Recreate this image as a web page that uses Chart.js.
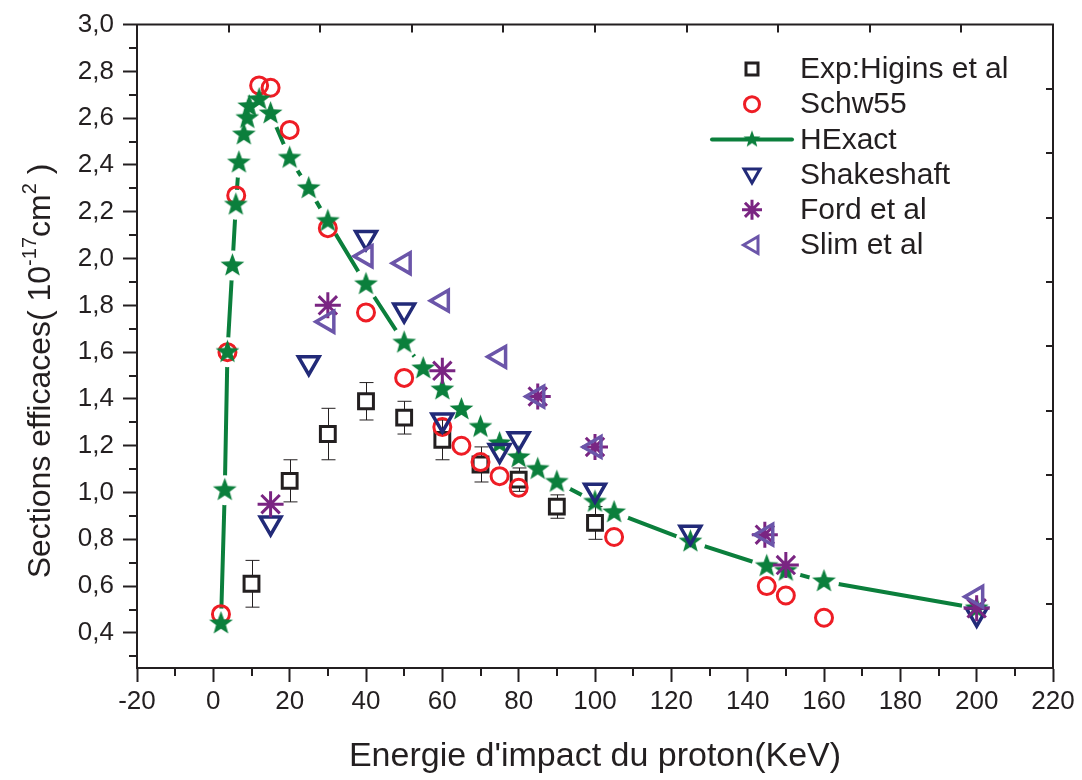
<!DOCTYPE html>
<html>
<head>
<meta charset="utf-8">
<title>Sections efficaces</title>
<script src="https://cdn.jsdelivr.net/npm/chart.js@4.4.0/dist/chart.umd.min.js"></script>
<style>
  html, body { margin: 0; padding: 0; background: #fff; }
  #chart { display: block; }
</style>
</head>
<body>
<canvas id="chart" width="1082" height="780"></canvas>
<script>
// ---- data ----
const xTicks = [-20, 0, 20, 40, 60, 80, 100, 120, 140, 160, 180, 200, 220];
const yTicks = [0.4, 0.6, 0.8, 1.0, 1.2, 1.4, 1.6, 1.8, 2.0, 2.2, 2.4, 2.6, 2.8, 3.0];

// Exp: Higins et al (with error bars)
const expX = [10, 20, 30, 40, 50, 60, 70, 80, 90, 100];
const expY = [0.61, 1.05, 1.25, 1.39, 1.32, 1.225, 1.12, 1.055, 0.94, 0.87];
const expErr = [0.10, 0.09, 0.11, 0.08, 0.07, 0.085, 0.075, 0.05, 0.05, 0.07];

// Schw55
const schwX = [2, 3.7, 6, 12, 15, 20, 30, 40, 50, 60, 65, 70, 75, 80, 105, 145, 150, 160];
const schwY = [0.48, 1.60, 2.27, 2.74, 2.73, 2.55, 2.13, 1.77, 1.49, 1.28, 1.20, 1.13, 1.07, 1.02, 0.81, 0.60, 0.56, 0.465];

// HExact
const hexX = [2, 3, 3.7, 5, 5.9, 6.7, 8, 8.9, 9.4, 12, 15, 20, 25, 30, 40, 50, 55, 60, 65, 70, 75, 80, 85, 90, 100, 105, 125, 145, 150, 160, 200];
const hexY = [0.44, 1.01, 1.60, 1.97, 2.23, 2.41, 2.53, 2.60, 2.65, 2.68, 2.62, 2.43, 2.30, 2.16, 1.89, 1.64, 1.53, 1.44, 1.355, 1.28, 1.21, 1.15, 1.10, 1.045, 0.96, 0.915, 0.79, 0.685, 0.665, 0.62, 0.505];

// Shakeshaft
const shakeX = [15, 25, 40, 50, 60, 75, 80, 100, 125, 200];
const shakeY = [0.87, 1.555, 2.09, 1.78, 1.31, 1.18, 1.23, 1.01, 0.83, 0.48];

// Ford et al
const fordX = [15, 30, 60, 85, 100, 144.5, 150, 200];
const fordY = [0.95, 1.80, 1.52, 1.41, 1.195, 0.82, 0.69, 0.505];

// Slim et al
const slimX = [30, 40, 50, 60, 75, 85, 100, 145, 200];
const slimY = [1.73, 2.01, 1.98, 1.82, 1.58, 1.41, 1.195, 0.82, 0.555];

// ---- styles ----
const fontFamily = '"Liberation Sans", Arial, Helvetica, sans-serif';
const inkColor = '#231f20';
const green = '#0b7f3c';
const red = '#ee1d25';
const navy = '#222a78';
const purple = '#7a2582';
const violet = '#6b55a9';

Chart.defaults.font.family = fontFamily;
Chart.defaults.color = inkColor;

const toPoints = (xs, ys) => xs.map((v, i) => ({ x: v, y: ys[i] }));
const yMinor = [0.3].concat(yTicks.slice(1).map(v => v - 0.1));
const xMinor = xTicks.slice(1).map(v => v - 10);

// filled five-point star used as point style
function makeStar(outer, inner, color) {
    const size = Math.ceil(outer * 2 + 2);
    const c = document.createElement('canvas');
    c.width = size;
    c.height = size;
    const g = c.getContext('2d');
    g.translate(size / 2, size / 2);
    g.beginPath();
    for (let k = 0; k < 10; k++) {
        const r = k % 2 ? inner : outer;
        const a = -Math.PI / 2 + k * Math.PI / 5;
        g.lineTo(r * Math.cos(a), r * Math.sin(a));
    }
    g.closePath();
    g.fillStyle = color;
    g.fill();
    return c;
}
const starBig = makeStar(12.5, 5.2, green);
const starSmall = makeStar(9, 3.8, green);

// small marker drawer for the legend
function drawMarker(ctx, kind, x, y) {
    ctx.save();
    ctx.translate(x, y);
    ctx.lineWidth = 3;
    ctx.beginPath();
    if (kind === 'square') {
        ctx.strokeStyle = inkColor;
        ctx.rect(-6, -6, 12, 12);
        ctx.stroke();
    } else if (kind === 'circle') {
        ctx.strokeStyle = red;
        ctx.arc(0, 0, 7.5, 0, Math.PI * 2);
        ctx.stroke();
    } else if (kind === 'star') {
        ctx.drawImage(starSmall, -starSmall.width / 2, -starSmall.height / 2);
    } else if (kind === 'down') {
        ctx.strokeStyle = navy;
        ctx.moveTo(-8, -5.5); ctx.lineTo(8, -5.5); ctx.lineTo(0, 8.5); ctx.closePath();
        ctx.stroke();
    } else if (kind === 'asterisk') {
        ctx.strokeStyle = purple;
        const r = 10, d = r * Math.SQRT1_2;
        ctx.moveTo(-r, 0); ctx.lineTo(r, 0);
        ctx.moveTo(0, -r); ctx.lineTo(0, r);
        ctx.moveTo(-d, -d); ctx.lineTo(d, d);
        ctx.moveTo(-d, d); ctx.lineTo(d, -d);
        ctx.stroke();
    } else if (kind === 'left') {
        ctx.strokeStyle = violet;
        ctx.moveTo(-8.5, 0); ctx.lineTo(6, -8.5); ctx.lineTo(6, 8.5); ctx.closePath();
        ctx.stroke();
    }
    ctx.restore();
}

const legendEntries = [
    { label: 'Exp:Higins et al', kind: 'square' },
    { label: 'Schw55', kind: 'circle' },
    { label: 'HExact', kind: 'star', line: true },
    { label: 'Shakeshaft', kind: 'down' },
    { label: 'Ford et al', kind: 'asterisk' },
    { label: 'Slim et al', kind: 'left' }
];

// error bars for the experimental points, drawn just under the markers
const errorBars = {
    id: 'errorBars',
    afterDatasetDraw(chart, args) {
        if (chart.data.datasets[args.index].id !== 'halo') return;
        const { ctx, scales: { x, y } } = chart;
        ctx.save();
        ctx.strokeStyle = inkColor;
        ctx.lineWidth = 1;
        ctx.beginPath();
        expX.forEach((v, i) => {
            const px = Math.round(x.getPixelForValue(v)) + 0.5;
            const top = y.getPixelForValue(expY[i] + expErr[i]);
            const bot = y.getPixelForValue(expY[i] - expErr[i]);
            ctx.moveTo(px, top); ctx.lineTo(px, bot);
            ctx.moveTo(px - 7, top); ctx.lineTo(px + 7, top);
            ctx.moveTo(px - 7, bot); ctx.lineTo(px + 7, bot);
        });
        ctx.stroke();
        ctx.restore();
    }
};

// frame, minor ticks, inner ticks, y title and legend
const decorations = {
    id: 'decorations',
    afterDraw(chart) {
        const { ctx, chartArea: a, scales: { x, y } } = chart;
        ctx.save();
        ctx.strokeStyle = inkColor;
        ctx.lineWidth = 2;
        ctx.beginPath();
        ctx.moveTo(a.left - 1, a.top);
        ctx.lineTo(a.right, a.top);
        ctx.lineTo(a.right, a.bottom + 1);
        ctx.stroke();

        ctx.beginPath();
        yMinor.forEach(v => {
            const py = Math.round(y.getPixelForValue(v));
            ctx.moveTo(a.left - 8, py); ctx.lineTo(a.left, py);
        });
        xMinor.forEach(v => {
            const px = Math.round(x.getPixelForValue(v));
            ctx.moveTo(px, a.bottom); ctx.lineTo(px, a.bottom + 8);
        });
        // top and right axes carry their own 10 inward ticks
        for (let i = 1; i < 10; i++) {
            const px = Math.round(a.left + (a.right - a.left) * i / 10);
            ctx.moveTo(px, a.top); ctx.lineTo(px, a.top + 8);
            const py = Math.round(a.top + (a.bottom - a.top) * i / 10);
            ctx.moveTo(a.right - 7, py); ctx.lineTo(a.right, py);
        }
        ctx.stroke();

        // y axis title with superscripts
        const parts = [
            { t: 'Sections efficaces( 10', f: '32px ' + fontFamily, dy: 0 },
            { t: '-17', f: '20px ' + fontFamily, dy: -14 },
            { t: 'cm', f: '32px ' + fontFamily, dy: 0 },
            { t: '2', f: '20px ' + fontFamily, dy: -14 },
            { t: ' )', f: '32px ' + fontFamily, dy: 0 }
        ];
        ctx.save();
        ctx.translate(50, 371);
        ctx.rotate(-Math.PI / 2);
        ctx.fillStyle = inkColor;
        ctx.textBaseline = 'alphabetic';
        ctx.textAlign = 'left';
        let total = 0;
        parts.forEach(p => { ctx.font = p.f; p.w = ctx.measureText(p.t).width; total += p.w; });
        let cx = -total / 2;
        parts.forEach(p => { ctx.font = p.f; ctx.fillText(p.t, cx, p.dy); cx += p.w; });
        ctx.restore();

        // legend
        ctx.font = '30px ' + fontFamily;
        ctx.fillStyle = inkColor;
        ctx.textBaseline = 'middle';
        ctx.textAlign = 'left';
        legendEntries.forEach((e, i) => {
            const ly = 69 + i * 35.2;
            if (e.line) {
                ctx.save();
                ctx.strokeStyle = green;
                ctx.lineWidth = 4;
                ctx.lineCap = 'round';
                ctx.beginPath();
                ctx.moveTo(712, ly); ctx.lineTo(792, ly);
                ctx.stroke();
                ctx.restore();
            }
            drawMarker(ctx, e.kind, 752, ly);
            ctx.fillText(e.label, 800, ly + 1);
        });
        ctx.restore();
    }
};

const ctx = document.getElementById('chart').getContext('2d');
const chart = new Chart(ctx, {
    type: 'scatter',
    data: {
        datasets: [
            {
                id: 'line',
                data: toPoints(hexX, hexY),
                showLine: true,
                borderColor: green,
                borderWidth: 4,
                pointRadius: 0,
                tension: 0,
                order: 8
            },
            {
                // white halo so the line stops short of each star
                id: 'halo',
                data: toPoints(hexX, hexY),
                pointStyle: 'circle',
                pointRadius: 15,
                pointBackgroundColor: '#ffffff',
                pointBorderWidth: 0,
                order: 7
            },
            {
                label: 'Exp:Higins et al',
                data: toPoints(expX, expY),
                pointStyle: 'rect',
                pointRadius: 10.5,
                pointBorderWidth: 3,
                pointBorderColor: inkColor,
                pointBackgroundColor: '#ffffff',
                order: 6
            },
            {
                label: 'Schw55',
                data: toPoints(schwX, schwY),
                pointStyle: 'circle',
                pointRadius: 8.5,
                pointBorderWidth: 3,
                pointBorderColor: red,
                pointBackgroundColor: 'rgba(0,0,0,0)',
                order: 5
            },
            {
                label: 'HExact',
                data: toPoints(hexX, hexY),
                pointStyle: starBig,
                pointRadius: 12,
                order: 4
            },
            {
                label: 'Shakeshaft',
                data: toPoints(shakeX, shakeY),
                pointStyle: 'triangle',
                pointRotation: 180,
                pointRadius: 12,
                pointBorderWidth: 3.5,
                pointBorderColor: navy,
                pointBackgroundColor: 'rgba(0,0,0,0)',
                order: 3
            },
            {
                label: 'Ford et al',
                data: toPoints(fordX, fordY),
                pointStyle: 'star',
                pointRadius: 13,
                pointBorderWidth: 3,
                pointBorderColor: purple,
                pointBackgroundColor: 'rgba(0,0,0,0)',
                order: 2
            },
            {
                label: 'Slim et al',
                data: toPoints(slimX, slimY),
                pointStyle: 'triangle',
                pointRotation: -90,
                pointRadius: 12,
                pointBorderWidth: 3.5,
                pointBorderColor: violet,
                pointBackgroundColor: 'rgba(0,0,0,0)',
                order: 1
            }
        ]
    },
    options: {
        responsive: false,
        maintainAspectRatio: false,
        devicePixelRatio: 1,
        animation: false,
        events: [],
        layout: { padding: { top: 24, right: 29, left: 0, bottom: 0 } },
        plugins: {
            legend: { display: false },
            tooltip: { enabled: false }
        },
        scales: {
            x: {
                type: 'linear',
                min: -20,
                max: 220,
                afterBuildTicks: (scale) => { scale.ticks = xTicks.map(v => ({ value: v })); },
                afterFit: (scale) => { scale.height = 112; },
                ticks: {
                    font: { size: 26 },
                    color: inkColor,
                    padding: 4,
                    maxRotation: 0,
                    callback: (v) => String(v)
                },
                grid: {
                    drawOnChartArea: false,
                    drawTicks: true,
                    tickLength: 14,
                    tickWidth: 2,
                    tickColor: inkColor
                },
                border: { display: true, color: inkColor, width: 2 },
                title: {
                    display: true,
                    text: "Energie d'impact du proton(KeV)",
                    font: { size: 34 },
                    color: inkColor,
                    padding: { top: 0, bottom: 3 }
                }
            },
            y: {
                type: 'linear',
                min: 0.25,
                max: 3.0,
                afterBuildTicks: (scale) => { scale.ticks = yTicks.map(v => ({ value: v })); },
                afterFit: (scale) => { scale.width = 137; },
                ticks: {
                    font: { size: 26 },
                    color: inkColor,
                    padding: 9,
                    callback: (v) => v.toFixed(1).replace('.', ',')
                },
                grid: {
                    drawOnChartArea: false,
                    drawTicks: true,
                    tickLength: 14,
                    tickWidth: 2,
                    tickColor: inkColor
                },
                border: { display: true, color: inkColor, width: 2 }
            }
        }
    },
    plugins: [errorBars, decorations]
});
</script>
</body>
</html>
